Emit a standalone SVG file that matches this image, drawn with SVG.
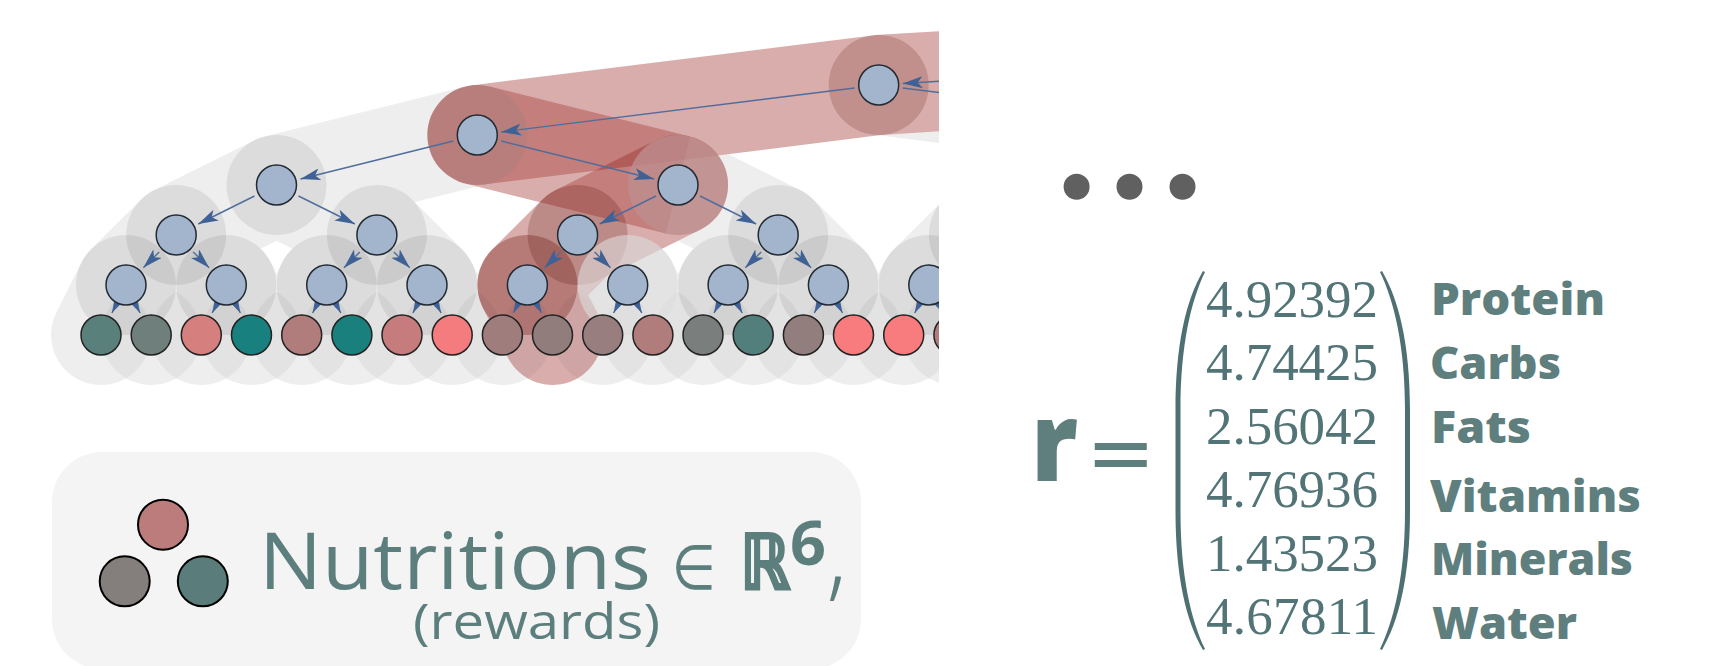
<svg xmlns="http://www.w3.org/2000/svg" width="1728" height="666" viewBox="0 0 1728 666">
<style>
.band{fill:none;stroke:#000;stroke-opacity:.065;stroke-width:100;stroke-linecap:round;stroke-linejoin:round}
.halo{fill:#000;fill-opacity:.075}
.lens{fill:#000;fill-opacity:.045}
.red{stroke:#e8bab8;stroke-width:100;stroke-linecap:butt;stroke-linejoin:round;fill:none;mix-blend-mode:multiply}
.edge{stroke:#4f6d9c;stroke-width:1.4;fill:none;marker-end:url(#ah)}
.inner{fill:#a3b4cd;stroke:#222b33;stroke-width:1.5}
.leaf{stroke:#222;stroke-width:1.5}
.lab{font-family:"Open Sans","Liberation Sans",sans-serif;font-weight:800;font-size:45px;fill:#5f7f7e}
.num{font-family:"Liberation Serif",serif;font-size:53px;fill:#527476}
.soft{font-family:"Open Sans","Liberation Sans",sans-serif;font-weight:400;fill:#5c7f7e}
.dot{fill:#606060}
.pic{stroke:#000;stroke-width:2}
</style>
<defs>
<marker id="ah" markerUnits="userSpaceOnUse" markerWidth="20" markerHeight="12" refX="20" refY="6" orient="auto"><path d="M20,6 L0,0 L5,6 L0,12 Z" fill="#3f6196"/></marker>
<clipPath id="c"><rect x="0" y="0" width="939" height="666"/></clipPath>
<path id="ln" d="M0,-43.3 A50,50 0 0 1 0,43.3 A50,50 0 0 1 0,-43.3 Z"/>
</defs>
<g clip-path="url(#c)">
<rect x="0" y="0" width="939" height="666" fill="#fff"/>
<g id="grey-bands">
<path class="band" d="M1680,35 L878.7,85 L477.3,135 L276.5,185 L176.2,235 L126,285 L101,335 M126,285 L151.2,335 M176.2,235 L226.3,285 L201.3,335 M226.3,285 L251.5,335 M276.5,185 L376.9,235 L326.7,285 L301.7,335 M326.7,285 L351.9,335 M376.9,235 L427,285 L402,335 M427,285 L452.2,335 M477.3,135 L678,185 L577.6,235 L527.4,285 L502.4,335 M527.4,285 L552.5,335 M577.6,235 L627.7,285 L602.7,335 M627.7,285 L652.9,335 M678,185 L778.2,235 L728.1,285 L703,335 M728.1,285 L753.2,335 M778.2,235 L828.4,285 L803.4,335 M828.4,285 L853.5,335 M878.7,85 L1280,135 L1079.3,185 L978.9,235 L928.8,285 L903.7,335 M928.8,285 L953.9,335 M978.9,235 L1029,285"/>
</g>
<g id="grey-halos">
<use href="#ln" class="lens" x="126.1" y="335"/><use href="#ln" class="lens" x="176.2" y="335"/><use href="#ln" class="lens" x="226.4" y="335"/><use href="#ln" class="lens" x="276.6" y="335"/><use href="#ln" class="lens" x="326.8" y="335"/><use href="#ln" class="lens" x="377" y="335"/><use href="#ln" class="lens" x="427.1" y="335"/><use href="#ln" class="lens" x="477.3" y="335"/><use href="#ln" class="lens" x="527.4" y="335"/><use href="#ln" class="lens" x="577.6" y="335"/><use href="#ln" class="lens" x="627.8" y="335"/><use href="#ln" class="lens" x="678" y="335"/><use href="#ln" class="lens" x="728.1" y="335"/><use href="#ln" class="lens" x="778.3" y="335"/><use href="#ln" class="lens" x="828.4" y="335"/><use href="#ln" class="lens" x="878.6" y="335"/><use href="#ln" class="lens" x="928.8" y="335"/>
<circle class="halo" cx="276.5" cy="185" r="50"/>
<circle class="halo" cx="176.2" cy="235" r="50"/><circle class="halo" cx="376.9" cy="235" r="50"/><circle class="halo" cx="778.2" cy="235" r="50"/><circle class="halo" cx="978.9" cy="235" r="50"/>
<circle class="halo" cx="126" cy="285" r="50"/><circle class="halo" cx="226.3" cy="285" r="50"/><circle class="halo" cx="326.7" cy="285" r="50"/><circle class="halo" cx="427" cy="285" r="50"/><circle class="halo" cx="728.1" cy="285" r="50"/><circle class="halo" cx="828.4" cy="285" r="50"/><circle class="halo" cx="928.8" cy="285" r="50"/>
</g>
<g id="red-path">
<path class="red" d="M1680,35 L878.7,85 L477.3,135"/>
<line class="red" x1="477.3" y1="135" x2="678" y2="185"/>
<path class="red" style="stroke-linecap:round" d="M678,185 L577.6,235 L527.4,285 L552.5,335"/>
<circle cx="878.7" cy="85" r="50" fill="#e5d5d0" style="mix-blend-mode:multiply"/>
<circle cx="477.3" cy="135" r="50" fill="#b87e7c"/>
<circle cx="678" cy="185" r="50" fill="#bd8d8d" fill-opacity=".8"/>
<circle cx="577.6" cy="235" r="50" fill="#e0cdc8" style="mix-blend-mode:multiply"/>
<circle cx="527.4" cy="285" r="50" fill="#d8b5b1" style="mix-blend-mode:multiply"/>
<circle cx="627.7" cy="285" r="50" fill="#dcdcdc" fill-opacity=".6"/>
</g>
<g id="connectors">
<path class="edge" d="M1656,36.5 L902.7,83.5"/>
<path class="edge" d="M854.7,88 L501.3,132"/><path class="edge" d="M902.7,88 L1256,132"/>
<path class="edge" d="M453.3,141 L300.5,179"/><path class="edge" d="M501.3,141 L654,179"/>
<path class="edge" d="M254.5,196 L198.2,224"/><path class="edge" d="M298.5,196 L354.9,224"/>
<path class="edge" d="M656,196 L599.6,224"/><path class="edge" d="M700,196 L756.2,224"/>
<path class="edge" d="M159.2,252 L143.3,267.7"/><path class="edge" d="M193.2,252 L209.1,267.7"/>
<path class="edge" d="M359.9,252 L344,267.7"/><path class="edge" d="M393.9,252 L409.8,267.7"/>
<path class="edge" d="M560.6,252 L544.7,267.7"/><path class="edge" d="M594.6,252 L610.5,267.7"/>
<path class="edge" d="M761.2,252 L745.3,267.7"/><path class="edge" d="M795.2,252 L811.1,267.7"/>
<path class="edge" d="M115.3,306.5 L111.9,313"/><path class="edge" d="M136.7,306.5 L140.1,313"/>
<path class="edge" d="M215.6,306.5 L212.2,313"/><path class="edge" d="M237,306.5 L240.4,313"/>
<path class="edge" d="M316,306.5 L312.6,313"/><path class="edge" d="M337.4,306.5 L340.8,313"/>
<path class="edge" d="M416.3,306.5 L412.9,313"/><path class="edge" d="M437.7,306.5 L441.1,313"/>
<path class="edge" d="M516.7,306.5 L513.3,313"/><path class="edge" d="M538.1,306.5 L541.5,313"/>
<path class="edge" d="M617,306.5 L613.6,313"/><path class="edge" d="M638.4,306.5 L641.8,313"/>
<path class="edge" d="M717.4,306.5 L714,313"/><path class="edge" d="M738.8,306.5 L742.2,313"/>
<path class="edge" d="M817.7,306.5 L814.3,313"/><path class="edge" d="M839.1,306.5 L842.5,313"/>
<path class="edge" d="M918.1,306.5 L914.7,313"/><path class="edge" d="M939.5,306.5 L942.9,313"/>
</g>
<g id="n-top"><circle class="inner" cx="878.7" cy="85" r="20"/></g>
<g id="n-l0"><circle class="inner" cx="477.3" cy="135" r="20"/></g>
<g id="n-l1a"><circle class="inner" cx="276.5" cy="185" r="20"/></g>
<g id="n-l1b"><circle class="inner" cx="678" cy="185" r="20"/></g>
<g id="n-l2a"><circle class="inner" cx="176.2" cy="235" r="20"/></g>
<g id="n-l2b"><circle class="inner" cx="376.9" cy="235" r="20"/></g>
<g id="n-l2c"><circle class="inner" cx="577.6" cy="235" r="20"/></g>
<g id="n-l2d"><circle class="inner" cx="778.2" cy="235" r="20"/></g>
<g id="n-l3a"><circle class="inner" cx="126" cy="285" r="20"/></g>
<g id="n-l3b"><circle class="inner" cx="226.3" cy="285" r="20"/></g>
<g id="n-l3c"><circle class="inner" cx="326.7" cy="285" r="20"/></g>
<g id="n-l3d"><circle class="inner" cx="427" cy="285" r="20"/></g>
<g id="n-l3e"><circle class="inner" cx="527.4" cy="285" r="20"/></g>
<g id="n-l3f"><circle class="inner" cx="627.7" cy="285" r="20"/></g>
<g id="n-l3g"><circle class="inner" cx="728.1" cy="285" r="20"/></g>
<g id="n-l3h"><circle class="inner" cx="828.4" cy="285" r="20"/></g>
<g id="n-l3i"><circle class="inner" cx="928.8" cy="285" r="20"/></g>
<g id="leaf1"><circle class="leaf" cx="101" cy="335" r="20" fill="#5a807c"/></g>
<g id="leaf2"><circle class="leaf" cx="151.2" cy="335" r="20" fill="#6f7f7c"/></g>
<g id="leaf3"><circle class="leaf" cx="201.3" cy="335" r="20" fill="#d67f7f"/></g>
<g id="leaf4"><circle class="leaf" cx="251.5" cy="335" r="20" fill="#18807e"/></g>
<g id="leaf5"><circle class="leaf" cx="301.7" cy="335" r="20" fill="#b07c7c"/></g>
<g id="leaf6"><circle class="leaf" cx="351.9" cy="335" r="20" fill="#1a807d"/></g>
<g id="leaf7"><circle class="leaf" cx="402" cy="335" r="20" fill="#c67c7c"/></g>
<g id="leaf8"><circle class="leaf" cx="452.2" cy="335" r="20" fill="#f47c7e"/></g>
<g id="leaf9"><circle class="leaf" cx="502.4" cy="335" r="20" fill="#9f7d7d"/></g>
<g id="leaf10"><circle class="leaf" cx="552.5" cy="335" r="20" fill="#917e7c"/></g>
<g id="leaf11"><circle class="leaf" cx="602.7" cy="335" r="20" fill="#987e7e"/></g>
<g id="leaf12"><circle class="leaf" cx="652.9" cy="335" r="20" fill="#b07c7c"/></g>
<g id="leaf13"><circle class="leaf" cx="703" cy="335" r="20" fill="#7a7f7d"/></g>
<g id="leaf14"><circle class="leaf" cx="753.2" cy="335" r="20" fill="#527e7c"/></g>
<g id="leaf15"><circle class="leaf" cx="803.4" cy="335" r="20" fill="#917e7d"/></g>
<g id="leaf16"><circle class="leaf" cx="853.5" cy="335" r="20" fill="#f87c7e"/></g>
<g id="leaf17"><circle class="leaf" cx="903.7" cy="335" r="20" fill="#f87c7e"/></g>
<g id="leaf18"><circle class="leaf" cx="953.9" cy="335" r="20" fill="#b07c7c"/></g>
</g>
<g id="legend">
<rect x="52" y="452" width="809" height="217" rx="50" ry="50" fill="#f4f4f4"/>
<circle class="pic" cx="163" cy="524.7" r="25" fill="#bd7c7c"/>
<circle class="pic" cx="124.7" cy="581.3" r="25" fill="#847f7d"/>
<circle class="pic" cx="202.8" cy="581.3" r="25" fill="#5a7d7b"/>
<text class="soft" x="259" y="589" font-size="78" textLength="392" lengthAdjust="spacingAndGlyphs">Nutritions</text>
<text x="672" y="589" font-size="62" font-family="'DejaVu Sans',sans-serif" fill="#5c7f7e" textLength="44" lengthAdjust="spacingAndGlyphs">∈</text>
<text x="740" y="589" font-size="76" font-weight="700" font-family="'DejaVu Sans',sans-serif" fill="#5c7f7e" stroke="#5c7f7e" stroke-width="3" textLength="50" lengthAdjust="spacingAndGlyphs">ℝ</text>
<text x="790" y="565" font-size="60" font-weight="700" font-family="'Open Sans',sans-serif" fill="#5c7f7e" textLength="36" lengthAdjust="spacingAndGlyphs">6</text>
<text x="826" y="588" font-size="100" font-weight="300" font-family="'Open Sans',sans-serif" fill="#5c7f7e">,</text>
<text class="soft" x="413" y="639" font-size="50" textLength="247" lengthAdjust="spacingAndGlyphs">(rewards)</text>
</g>
<g id="dots"><circle class="dot" cx="1076.6" cy="186.7" r="13"/><circle class="dot" cx="1129.5" cy="186.7" r="13"/><circle class="dot" cx="1182.5" cy="186.7" r="13"/></g>
<g id="vector">
<text x="1031" y="481" font-size="110" font-weight="800" font-family="'Open Sans',sans-serif" fill="#5f7f7e" textLength="47" lengthAdjust="spacingAndGlyphs">r</text>
<text x="1086" y="481" font-size="83" font-family="'DejaVu Sans',sans-serif" fill="#5f7f7e">=</text>
<path d="M1203,271 C1186,300 1175.5,345 1175.5,410 L1175.5,511 C1175.5,576 1186,621 1203,650 L1205,649 C1191,620 1180.5,576 1180.5,511 L1180.5,410 C1180.5,345 1191,301 1205,272 Z" fill="#4f7072"/>
<path d="M1382,271 C1399,300 1410,345 1410,410 L1410,511 C1410,576 1399,621 1382,650 L1380,649 C1394,620 1405,576 1405,511 L1405,410 C1405,345 1394,301 1380,272 Z" fill="#4f7072"/>
<text class="num" x="1206" y="316.5" textLength="172">4.92392</text>
<text class="num" x="1206" y="380" textLength="172">4.74425</text>
<text class="num" x="1206" y="443.5" textLength="172">2.56042</text>
<text class="num" x="1206" y="507.2" textLength="172">4.76936</text>
<text class="num" x="1206" y="570.5" textLength="172">1.43523</text>
<text class="num" x="1206" y="634.2" textLength="172">4.67811</text>
<text class="lab" x="1431" y="315" textLength="174" lengthAdjust="spacingAndGlyphs">Protein</text>
<text class="lab" x="1430" y="378.7" textLength="131" lengthAdjust="spacingAndGlyphs">Carbs</text>
<text class="lab" x="1431" y="442.7" textLength="100" lengthAdjust="spacingAndGlyphs">Fats</text>
<text class="lab" x="1430" y="512" textLength="211" lengthAdjust="spacingAndGlyphs">Vitamins</text>
<text class="lab" x="1431" y="575" textLength="202" lengthAdjust="spacingAndGlyphs">Minerals</text>
<text class="lab" x="1432" y="638.7" textLength="145" lengthAdjust="spacingAndGlyphs">Water</text>
</g>
</svg>
